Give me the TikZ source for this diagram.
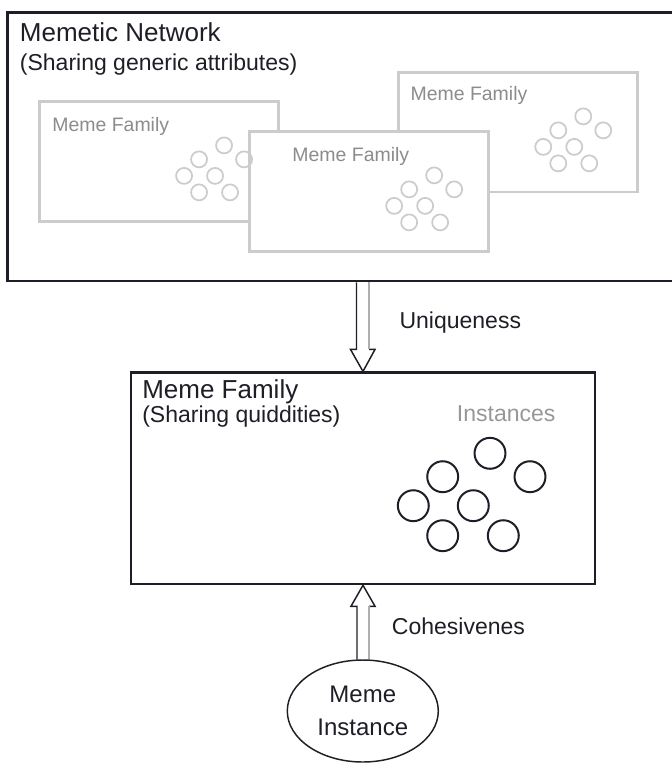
\documentclass[tikz,border=0pt]{standalone}
\usepackage{fontspec}
\setmainfont{Liberation Sans}
\usetikzlibrary{shapes.geometric,calc,fit,positioning}

\definecolor{inkdark}{RGB}{30,30,38}
\definecolor{famline}{RGB}{204,204,204}
\definecolor{famtext}{RGB}{140,140,140}
\definecolor{shaftgray}{RGB}{175,175,175}

\tikzset{
  netbox/.style={draw=inkdark, line width=2pt, inner sep=0pt},
  fambox/.style={draw=famline, fill=white, line width=2pt, inner sep=0pt},
  mainbox/.style={draw=inkdark, line width=1.9pt, inner sep=0pt},
  instnode/.style={ellipse, draw=inkdark, line width=1.1pt, align=center,
    minimum width=113.25pt, minimum height=76.5pt, inner sep=0pt,
    font=\fontsize{18pt}{24.75pt}\selectfont, text=inkdark},
  headtext/.style={font=\fontsize{19.5pt}{23pt}\selectfont, text=inkdark, inner sep=0pt, anchor=base west},
  subtext/.style={font=\fontsize{17.25pt}{21pt}\selectfont, text=inkdark, inner sep=0pt, anchor=base west},
  famlabel/.style={font=\fontsize{14.6pt}{17pt}\selectfont, text=famtext, inner sep=0pt, anchor=base west},
  graylabel/.style={font=\fontsize{17.25pt}{21pt}\selectfont, text=famtext!90, inner sep=0pt, anchor=base west},
  smalldot/.style={draw=famline, line width=1.3pt},
  bigdot/.style={draw=inkdark, line width=1.5pt},
  arrowline/.style={draw=inkdark, line width=1.1pt, line join=miter},
  arrowshade/.style={draw=shaftgray, line width=1.1pt}
}

\begin{document}
\begin{tikzpicture}[x=0.75pt,y=-0.75pt]
  \useasboundingbox (0,0) rectangle (672,765);
  \clip (0,0) rectangle (672,765);

  % Memetic network box
  \node[netbox, fit={(7.5,12.3) (673.5,281)}] (net) {};
  \node[headtext] (nettitle) at ([shift={(13.5,31)}]net.north west) {Memetic Network};
  \node[subtext] (netsub) at ([shift={(0,28.5)}]nettitle.base west) {(Sharing generic attributes)};

  % Meme families inside the network
  \node[fambox, fit={(39.4,101.7) (278.6,221.7)}] (famA) {};
  \node[fambox, fit={(398.6,72.7) (637.7,192)}] (famC) {};
  \node[fambox, fit={(249.5,131.7) (488.6,251.7)}] (famB) {};
  \node[famlabel] (famAtext) at ([shift={(14,31.3)}]famA.north west) {Meme Family};
  \node[famlabel] (famBtext) at ([shift={(44,31)}]famB.north west) {Meme Family};
  \node[famlabel] (famCtext) at ([shift={(13,29)}]famC.north west) {Meme Family};
  \foreach \fam in {famA,famB,famC}
    \foreach \cx/\cy in {186/45, 161/59, 206/59, 146/75.5, 177/75.5, 161/92, 192/92}
      \draw[smalldot] ([shift={(\cx,\cy)}]\fam.north west) circle (6pt);

  % Meme family box
  \node[mainbox, fit={(131,372.7) (595,584)}] (main) {};
  \node[headtext] (maintitle) at ([shift={(12.3,26.6)}]main.north west) {Meme Family};
  \node[subtext] (mainsub) at ([shift={(0,24)}]maintitle.base west) {(Sharing quiddities)};
  \node[graylabel] (insttext) at (456.7,421.7) {Instances};
  \foreach \cx/\cy in {490/453.3, 442.7/476.7, 530/476.7, 413.3/505.7, 473.3/505.7, 442.7/535.7, 503.3/535.7}
    \draw[bigdot] (\cx,\cy) circle (11.6pt);

  % Meme instance
  \node[instnode] (inst) at (362.8,711) {Meme\\Instance};

  % Uniqueness arrow
  \coordinate (utop) at (net.south -| main.north);
  \draw[arrowline] ($(utop)+(-6.5,0)$) -- ($(main.north)+(-6.5,-22)$) -- ($(main.north)+(-12.5,-22)$)
    -- (main.north) -- ($(main.north)+(12,-22)$) -- ($(main.north)+(6,-22)$);
  \draw[arrowshade] ($(main.north)+(6,-22)$) -- ($(utop)+(6,0)$);
  \node[subtext] (uniq) at ([shift={(36.3,-42.7)}]main.north) {Uniqueness};

  % Cohesiveness arrow
  \coordinate (cbot) at (inst.north -| main.south);
  \draw[arrowline] ($(cbot)+(-6,0)$) -- ($(main.south)+(-6,21)$) -- ($(main.south)+(-12,21)$)
    -- (main.south) -- ($(main.south)+(12,21)$) -- ($(main.south)+(6,21)$);
  \draw[arrowshade] ($(main.south)+(6,21)$) -- ($(cbot)+(6,0)$);
  \node[subtext] (cohes) at ([shift={(28.7,49.3)}]main.south) {Cohesivenes};
\end{tikzpicture}
\end{document}
